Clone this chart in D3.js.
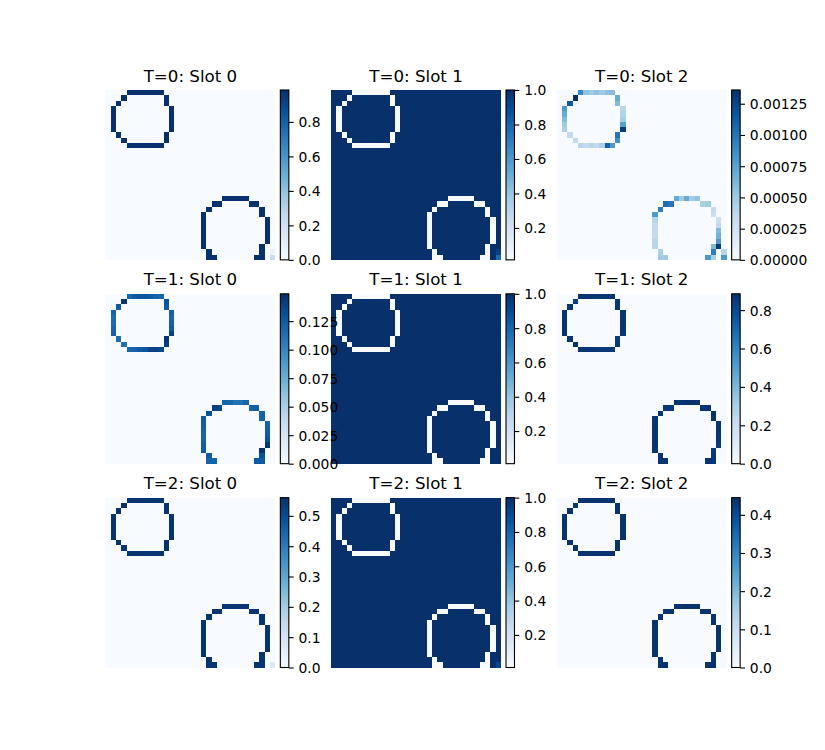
<!DOCTYPE html>
<html><head><meta charset="utf-8">
<script src="https://cdn.jsdelivr.net/npm/d3@7"></script>
<style>body{margin:0;background:#fff}svg{display:block}</style>
</head><body>
<script>
// ---------------- DATA ----------------
const gridSize = 32;
const timeLabels = ["T=0", "T=1", "T=2"];
const slotLabels = ["Slot 0", "Slot 1", "Slot 2"];

// ring pixels [row, col] of the two object outlines
const ringPixels = [
  [0,4],[0,5],[0,6],[0,7],[0,8],[0,9],[0,10],
  [1,3],[1,11],
  [2,2],[2,11],
  [3,1],[3,12],[4,1],[4,12],[5,1],[5,12],[6,1],[6,12],[7,1],[7,12],
  [8,2],[8,11],
  [9,3],[9,11],
  [10,4],[10,5],[10,6],[10,7],[10,8],[10,9],[10,10],
  [20,22],[20,23],[20,24],[20,25],[20,26],
  [21,20],[21,21],[21,27],[21,28],
  [22,19],[22,29],[23,18],[23,29],
  [24,18],[24,30],[25,18],[25,30],[26,18],[26,30],[27,18],[27,30],[28,18],[28,30],
  [29,18],[29,29],[30,19],[30,29],
  [31,19],[31,20],[31,28],[31,29]
];

// background value (outside rings) per slot
const backgroundSlot = [0.0, 1.0, 0.0];

// ring values per panel, same order as ringPixels
const ringT0S0 = [
  0.98,0.98,0.98,0.98,0.98,0.98,0.98,
  0.985,0.98,
  0.98,0.98,
  0.98,0.98, 0.98,0.98, 0.98,0.98, 0.98,0.98, 0.98,0.985,
  0.98,0.985,
  0.98,0.98,
  0.98,0.98,0.98,0.98,0.98,0.985,0.98,
  0.98,0.98,0.98,0.98,0.98,
  0.985,0.98,0.98,0.98,
  0.98,0.98, 0.98,0.98,
  0.98,0.98, 0.98,0.98, 0.98,0.98, 0.98,0.98, 0.98,0.98,
  0.98,0.985, 0.98,0.98,
  0.98,0.98,0.98,0.98
];
const ringT0S1 = [
  0.019,0.019,0.019,0.019,0.019,0.019,0.019,
  0.015,0.019,
  0.019,0.020,
  0.019,0.020, 0.019,0.020, 0.019,0.020, 0.019,0.019, 0.019,0.015,
  0.020,0.015,
  0.020,0.019,
  0.020,0.020,0.020,0.020,0.020,0.015,0.019,
  0.019,0.019,0.019,0.019,0.019,
  0.015,0.019,0.020,0.020,
  0.019,0.020, 0.019,0.020,
  0.020,0.020, 0.020,0.019, 0.020,0.019, 0.020,0.019, 0.020,0.019,
  0.020,0.015, 0.019,0.019,
  0.019,0.019,0.019,0.020
];
const ringT0S2 = [
  0.00090,0.00055,0.00050,0.00055,0.00050,0.00055,0.00060,
  0.00136,0.00070,
  0.00115,0.00060,
  0.00080,0.00040, 0.00070,0.00042, 0.00060,0.00048, 0.00050,0.00075, 0.00045,0.00130,
  0.00035,0.00100,
  0.00035,0.00085,
  0.00040,0.00035,0.00040,0.00035,0.00045,0.00110,0.00080,
  0.00070,0.00050,0.00070,0.00050,0.00055,
  0.00105,0.00100,0.00045,0.00050,
  0.00095,0.00035, 0.00080,0.00030,
  0.00040,0.00030, 0.00035,0.00035, 0.00035,0.00060, 0.00035,0.00065, 0.00040,0.00080,
  0.00040,0.00060, 0.00045,0.00095,
  0.00050,0.00050,0.00080,0.00045
];
const ringT1S0 = [
  0.118,0.125,0.128,0.128,0.125,0.120,0.118,
  0.146,0.130,
  0.125,0.125,
  0.120,0.122, 0.115,0.118, 0.115,0.120, 0.118,0.125, 0.120,0.138,
  0.115,0.147,
  0.112,0.140,
  0.118,0.120,0.125,0.130,0.138,0.140,0.135,
  0.120,0.118,0.112,0.112,0.118,
  0.140,0.138,0.120,0.122,
  0.130,0.120, 0.125,0.120,
  0.122,0.120, 0.120,0.122, 0.120,0.125, 0.120,0.130, 0.122,0.145,
  0.125,0.149, 0.125,0.130,
  0.120,0.120,0.125,0.125
];
const ringT1S1 = [
  0.010,0.010,0.010,0.010,0.010,0.010,0.010,
  0.010,0.010,
  0.010,0.010,
  0.010,0.010, 0.010,0.010, 0.010,0.010, 0.010,0.010, 0.010,0.010,
  0.010,0.010,
  0.010,0.010,
  0.010,0.010,0.010,0.010,0.010,0.010,0.010,
  0.010,0.010,0.010,0.010,0.010,
  0.010,0.010,0.010,0.010,
  0.010,0.010, 0.010,0.010,
  0.010,0.010, 0.010,0.010, 0.010,0.010, 0.010,0.010, 0.010,0.010,
  0.010,0.010, 0.010,0.010,
  0.010,0.010,0.010,0.010
];
const ringT1S2 = [
  0.872,0.865,0.862,0.862,0.865,0.870,0.872,
  0.844,0.860,
  0.865,0.865,
  0.870,0.868, 0.875,0.872, 0.875,0.870, 0.872,0.865, 0.870,0.852,
  0.875,0.843,
  0.882,0.850,
  0.872,0.870,0.865,0.860,0.852,0.850,0.855,
  0.870,0.872,0.885,0.878,0.872,
  0.850,0.852,0.870,0.868,
  0.860,0.870, 0.865,0.870,
  0.868,0.870, 0.870,0.868, 0.870,0.865, 0.870,0.860, 0.868,0.845,
  0.865,0.841, 0.865,0.860,
  0.870,0.870,0.865,0.865
];
const ringT2S0 = [
  0.55,0.55,0.55,0.55,0.55,0.55,0.55,
  0.56,0.55,
  0.55,0.55,
  0.55,0.55, 0.55,0.55, 0.55,0.55, 0.55,0.55, 0.55,0.55,
  0.55,0.55,
  0.55,0.55,
  0.55,0.55,0.55,0.55,0.55,0.55,0.55,
  0.55,0.55,0.55,0.55,0.55,
  0.55,0.55,0.55,0.55,
  0.55,0.55, 0.55,0.55,
  0.55,0.55, 0.55,0.55, 0.55,0.55, 0.55,0.55, 0.55,0.55,
  0.55,0.55, 0.55,0.55,
  0.55,0.55,0.55,0.55
];
const ringT2S1 = [
  0.010,0.010,0.010,0.010,0.010,0.010,0.010,
  0.010,0.010,
  0.010,0.010,
  0.010,0.010, 0.010,0.010, 0.010,0.010, 0.010,0.010, 0.010,0.010,
  0.010,0.010,
  0.010,0.010,
  0.010,0.010,0.010,0.010,0.010,0.010,0.010,
  0.010,0.010,0.010,0.010,0.010,
  0.010,0.010,0.010,0.010,
  0.010,0.010, 0.010,0.010,
  0.010,0.010, 0.010,0.010, 0.010,0.010, 0.010,0.010, 0.010,0.010,
  0.010,0.010, 0.010,0.010,
  0.010,0.010,0.010,0.010
];
const ringT2S2 = [
  0.44,0.44,0.44,0.44,0.44,0.44,0.44,
  0.43,0.44,
  0.44,0.44,
  0.44,0.44, 0.44,0.44, 0.44,0.44, 0.44,0.44, 0.44,0.44,
  0.44,0.44,
  0.44,0.44,
  0.44,0.44,0.44,0.44,0.44,0.44,0.44,
  0.44,0.44,0.445,0.44,0.44,
  0.44,0.44,0.44,0.44,
  0.44,0.44, 0.44,0.44,
  0.44,0.44, 0.44,0.44, 0.44,0.44, 0.44,0.44, 0.44,0.44,
  0.44,0.44, 0.44,0.44,
  0.44,0.44,0.44,0.44
];

// extra isolated pixels [row, col, value]
const extraT0S0 = [[30,31,0.06],[31,31,0.22]];
const extraT0S1 = [[29,30,0.9987],[30,31,0.9396],[31,31,0.7792]];
const extraT0S2 = [[29,30,0.0013],[30,31,0.0004],[31,31,0.0008]];
const extraT1S0 = [];
const extraT1S1 = [];
const extraT1S2 = [];
const extraT2S0 = [[31,31,0.08]];
const extraT2S1 = [[31,31,0.915]];
const extraT2S2 = [[31,31,0.005]];

// colorbar tick labels
const ticksT0S0 = ["0.0","0.2","0.4","0.6","0.8"];
const ticksT0S1 = ["0.2","0.4","0.6","0.8","1.0"];
const ticksT0S2 = ["0.00000","0.00025","0.00050","0.00075","0.00100","0.00125"];
const ticksT1S0 = ["0.000","0.025","0.050","0.075","0.100","0.125"];
const ticksT1S1 = ["0.2","0.4","0.6","0.8","1.0"];
const ticksT1S2 = ["0.0","0.2","0.4","0.6","0.8"];
const ticksT2S0 = ["0.0","0.1","0.2","0.3","0.4","0.5"];
const ticksT2S1 = ["0.2","0.4","0.6","0.8","1.0"];
const ticksT2S2 = ["0.0","0.1","0.2","0.3","0.4"];

// matplotlib "Blues" colormap anchors
const bluesColors = ["#f7fbff","#deebf7","#c6dbef","#9ecae1","#6baed6","#4292c6","#2171b5","#08519c","#08306b"];

// ---------------- TABLE ----------------
const ringTable = [[ringT0S0,ringT0S1,ringT0S2],[ringT1S0,ringT1S1,ringT1S2],[ringT2S0,ringT2S1,ringT2S2]];
const extraTable = [[extraT0S0,extraT0S1,extraT0S2],[extraT1S0,extraT1S1,extraT1S2],[extraT2S0,extraT2S1,extraT2S2]];
const tickTable = [[ticksT0S0,ticksT0S1,ticksT0S2],[ticksT1S0,ticksT1S1,ticksT1S2],[ticksT2S0,ticksT2S1,ticksT2S2]];

// ---------------- LAYOUT ----------------
const W = 825, H = 750;
const dpi = 100, pt = dpi / 72;
const gsLeft = 0.125 * W, gsRight = 0.9 * W, gsTop = (1 - 0.88) * H, gsBottom = (1 - 0.11) * H;
const colW = (gsRight - gsLeft) / (3 + 2 * 0.2), colGap = 0.2 * colW;
const rowH = (gsBottom - gsTop) / (3 + 2 * 0.2), rowGap = 0.2 * rowH;
const side = rowH;                     // square image
const cbPad = 0.05 * dpi;              // 0.05 inch
const cbW = 0.05 * side;               // 5%
const offX = (colW - (side + cbPad + cbW)) / 2;

const svg = d3.select("body").append("svg").attr("width", W).attr("height", H)
  .style("font-family", "'DejaVu Sans', sans-serif");

const bluesPos = d3.range(bluesColors.length).map(i => i / (bluesColors.length - 1));
const blues = d3.scaleLinear().domain(bluesPos).range(bluesColors).interpolate(d3.interpolateRgb).clamp(true);

const grad = svg.append("defs").append("linearGradient").attr("id", "bluesGrad")
  .attr("x1", 0).attr("y1", 1).attr("x2", 0).attr("y2", 0);
grad.selectAll("stop").data(bluesColors).join("stop")
  .attr("offset", (d, i) => bluesPos[i]).attr("stop-color", d => d);

const idx = d3.range(gridSize);
const imgLayer = svg.append("g");
const cbLayer = svg.append("g");
const titleLayer = svg.append("g");

for (let t = 0; t < 3; t++) {
  for (let s = 0; s < 3; s++) {
    const x0 = gsLeft + s * (colW + colGap) + offX;
    const y0 = gsTop + t * (rowH + rowGap);

    // build grid
    const grid = idx.map(() => idx.map(() => backgroundSlot[s]));
    ringTable[t][s].forEach((v, i) => { const [r, c] = ringPixels[i]; grid[r][c] = v; });
    extraTable[t][s].forEach(([r, c, v]) => { grid[r][c] = v; });
    const cells = [];
    grid.forEach((row, r) => row.forEach((v, c) => cells.push({r, c, v})));
    const [vmin, vmax] = d3.extent(cells, d => d.v);
    const norm = d3.scaleLinear().domain([vmin, vmax]).range([0, 1]);

    const xs = d3.scaleBand().domain(idx).range([x0, x0 + side]);
    const ys = d3.scaleBand().domain(idx).range([y0, y0 + side]);

    imgLayer.append("g").attr("shape-rendering", "crispEdges")
      .selectAll("rect").data(cells).join("rect")
      .attr("x", d => xs(d.c)).attr("y", d => ys(d.r))
      .attr("width", xs.bandwidth() + 0.02).attr("height", ys.bandwidth() + 0.02)
      .attr("fill", d => blues(norm(d.v)));

    // colorbar
    const cbx = x0 + side + cbPad;
    cbLayer.append("rect").attr("x", cbx).attr("y", y0).attr("width", cbW).attr("height", side)
      .attr("fill", "url(#bluesGrad)");
    cbLayer.append("rect").attr("x", cbx).attr("y", y0).attr("width", cbW).attr("height", side)
      .attr("fill", "none").attr("stroke", "#000").attr("stroke-width", 0.8 * pt);

    const labels = tickTable[t][s];
    const cs = d3.scaleLinear().domain([vmin, vmax]).range([y0 + side, y0]);
    const ax = d3.axisRight(cs).tickValues(labels.map(Number))
      .tickFormat((d, i) => labels[i]).tickSize(3.5 * pt).tickPadding(3.5 * pt);
    const g = cbLayer.append("g").attr("transform", `translate(${cbx + cbW},0)`).call(ax);
    g.select(".domain").remove();
    g.selectAll(".tick line").attr("stroke", "#000").attr("stroke-width", 0.8 * pt);
    g.selectAll(".tick text").attr("fill", "#000")
      .attr("font-size", (10 * pt) + "px").attr("font-family", "'DejaVu Sans', sans-serif")
      .attr("dy", "0.35em");
    g.attr("font-size", null).attr("font-family", null);

    // title
    titleLayer.append("text").attr("x", x0 + side / 2).attr("y", y0 - 6 * pt)
      .attr("text-anchor", "middle").attr("font-size", (12 * pt) + "px").attr("fill", "#000")
      .text(`${timeLabels[t]}: ${slotLabels[s]}`);
  }
}
</script>
</body></html>
